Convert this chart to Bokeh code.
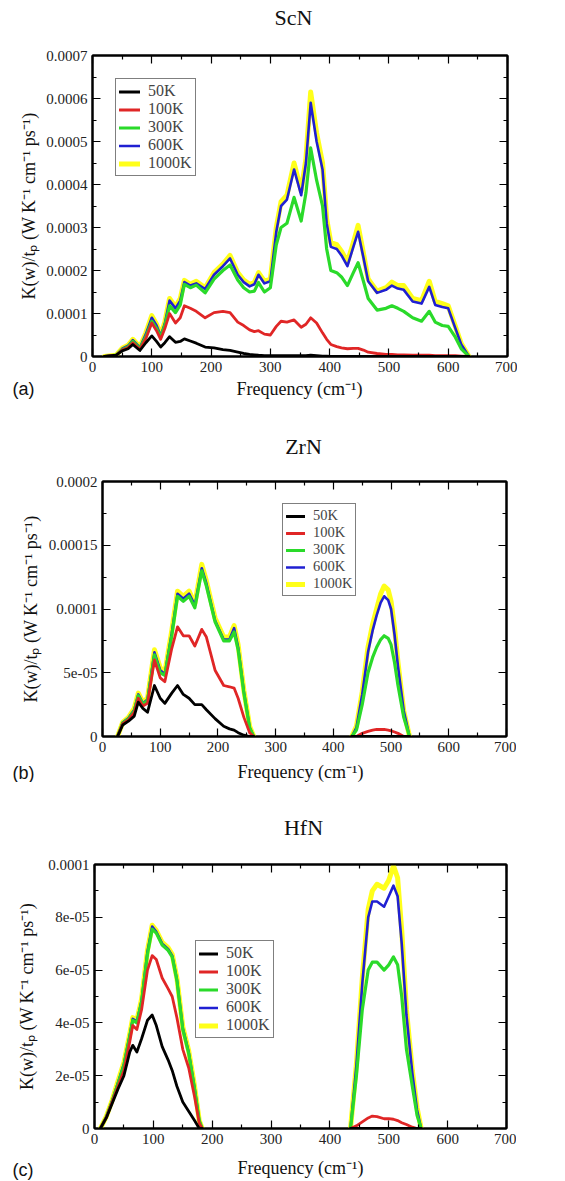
import numpy as np
from bokeh.plotting import figure
from bokeh.models import (LinearAxis, FixedTicker, Label, Legend, LegendItem,
                          CustomJSTickFormatter, Range1d)
from bokeh.embed import file_html
from bokeh.resources import INLINE

NAN = float("nan")
SCALE = 1e-5  # values below are in units of 1e-5 W K^-1 cm^-1 ps^-1

TEMPS = ["50K", "100K", "300K", "600K", "1000K"]
COLORS = {"50K": "#000000", "100K": "#e02626", "300K": "#2ada2a",
          "600K": "#2020d2", "1000K": "#ffff1a"}
WIDTHS = {"50K": 2.8, "100K": 2.8, "300K": 3.2, "600K": 2.6, "1000K": 5.0}
DRAW_ORDER = ["1000K", "600K", "300K", "100K", "50K"]

X_TICKS = [0, 100, 200, 300, 400, 500, 600, 700]
X_MINOR = [50, 150, 250, 350, 450, 550, 650]

# ---------------- ScN ----------------
SCN_FREQ = [20, 40, 50, 60, 68, 80, 90, 100, 108, 115, 122, 130, 140, 148, 155, 165, 175,
            190, 205, 220, 232, 245, 255, 265, 273, 280, 290, 300, 310, 318, 328, 340,
            352, 360, 368, 378, 388, 395, 402, 412, 420, 430, 440, 448, 457, 465, 480,
            495, 505, 515, 525, 540, 555, 568, 578, 590, 600, 612, 622, 635]
SCN_1000K = [0, 0.3, 1.9, 2.6, 4.0, 2.2, 5.5, 9.5, 7.5, 5.0, 8.0, 13.5, 11.5, 13.5, 17.7, 16.8, 17.5,
             16.0, 19.5, 21.5, 23.5, 19.5, 17.8, 16.8, 17.2, 19.5, 17.5, 18.0, 30.0, 36.0, 37.5, 45.0,
             38.5, 46.0, 61.5, 52.0, 45.0, 32.0, 26.5, 26.0, 24.5, 22.0, 26.5, 30.5, 24.0, 18.0, 15.2,
             16.0, 17.3, 16.5, 16.5, 13.5, 13.0, 17.5, 12.8, 12.3, 11.8, 7.0, 3.0, 0]
SCN_600K = [0, 0.3, 1.8, 2.5, 3.8, 2.1, 5.2, 9.0, 7.2, 4.8, 7.7, 13.0, 11.2, 13.0, 17.3, 16.5, 17.0,
            15.7, 19.0, 21.0, 22.8, 19.0, 17.3, 16.3, 16.8, 19.0, 17.0, 17.5, 29.0, 35.0, 36.5, 43.5,
            37.5, 45.0, 59.0, 50.0, 43.5, 31.0, 25.5, 25.0, 23.5, 21.0, 25.5, 29.0, 23.0, 17.5, 14.8,
            15.5, 16.5, 15.8, 15.5, 12.8, 12.3, 16.2, 12.0, 11.5, 11.2, 6.6, 2.8, 0]
SCN_300K = [0, 0.3, 1.6, 2.3, 3.5, 1.9, 4.6, 8.2, 6.5, 4.5, 7.2, 11.8, 10.2, 12.0, 16.8, 16.0, 16.6,
            14.8, 18.0, 20.0, 21.3, 17.8, 16.0, 15.0, 15.2, 17.2, 15.0, 16.0, 26.0, 30.0, 31.0, 37.0,
            31.5, 38.0, 48.5, 41.0, 35.0, 25.0, 20.0, 19.5, 18.5, 16.5, 19.5, 21.8, 17.5, 13.5, 10.8,
            11.2, 11.8, 11.2, 10.5, 9.0, 8.2, 10.5, 8.0, 7.2, 7.0, 4.5, 1.8, 0]
SCN_100K = [0, 0.3, 1.5, 2.1, 3.2, 1.7, 4.2, 7.8, 6.0, 4.0, 6.5, 10.0, 7.8, 9.0, 11.8, 11.2, 10.5,
            9.0, 10.2, 10.5, 10.2, 8.0, 7.2, 6.2, 5.8, 6.0, 5.2, 5.0, 7.0, 8.2, 8.0, 8.5,
            6.8, 7.5, 9.0, 7.8, 5.5, 4.0, 2.8, 2.3, 2.0, 1.8, 1.9, 1.9, 1.5, 1.0, 0.7,
            0.5, 0.5, 0.4, 0.4, 0.3, 0.3, 0.3, 0.2, 0.2, 0.2, 0.2, 0.1, 0]
SCN_50K = [0, 0.3, 1.3, 1.8, 2.8, 1.4, 3.2, 4.8, 3.5, 2.2, 3.2, 4.6, 3.3, 3.5, 4.1, 3.6, 3.1,
           2.2, 2.0, 1.6, 1.4, 1.0, 0.7, 0.5, 0.4, 0.3, 0.2, 0.2, 0.2, 0.2, 0.2, 0.2,
           0.2, 0.2, 0.3, 0.2, 0.1, 0.1, 0, 0, 0, 0, 0, 0, 0, 0, 0,
           0, 0, 0, 0, 0, 0, 0, 0, 0, 0, 0, 0, 0]

# ---------------- ZrN ----------------
ZRN_FREQ = [26, 35, 45, 55, 62, 70, 78, 90, 100, 108, 120, 130, 140, 150, 160, 172, 180, 195,
            210, 220, 228, 235, 245, 255, 262, NAN, 432, 440, 450, 460, 468, 475, 482, 488,
            495, 500, 506, 512, 522, 532]
ZRN_1000K = [0, 1.1, 1.5, 2.2, 3.4, 2.7, 3.0, 6.8, 5.4, 5.0, 8.3, 11.4, 11.0, 11.4, 10.4, 13.5, 12.2, 9.3,
             7.8, 7.8, 8.7, 7.2, 3.6, 0.8, 0, NAN, 0, 0.8, 3.5, 7.0, 8.8, 10.0, 11.2, 11.8,
             11.5, 10.6, 8.5, 5.8, 2.0, 0]
ZRN_600K = [0, 1.1, 1.45, 2.1, 3.3, 2.6, 2.9, 6.6, 5.2, 4.9, 8.1, 11.2, 10.8, 11.2, 10.3, 13.2, 12.0, 9.1,
            7.6, 7.6, 8.5, 7.0, 3.5, 0.7, 0, NAN, 0, 0.7, 3.3, 6.6, 8.3, 9.5, 10.5, 11.0,
            10.7, 10.0, 8.0, 5.5, 2.0, 0]
ZRN_300K = [0, 1.05, 1.4, 2.0, 3.2, 2.55, 2.8, 6.4, 5.0, 4.8, 7.9, 11.0, 10.6, 11.0, 10.1, 13.0, 11.8, 9.0,
            7.5, 7.5, 8.2, 6.8, 3.4, 0.7, 0, NAN, 0, 0.5, 2.5, 5.0, 6.2, 7.0, 7.6, 7.9,
            7.7, 7.2, 5.8, 4.0, 1.5, 0]
ZRN_100K = [0, 1.0, 1.3, 1.9, 3.0, 2.4, 2.6, 6.0, 4.6, 4.3, 6.9, 8.6, 7.9, 7.9, 7.1, 8.4, 7.8, 5.2,
            4.0, 3.9, 3.8, 3.0, 1.5, 0.3, 0, NAN, 0, 0, 0.25, 0.4, 0.5, 0.55, 0.55, 0.55,
            0.5, 0.45, 0.35, 0.25, 0, 0]
ZRN_50K = [0, 0.9, 1.2, 1.6, 2.7, 2.2, 1.9, 4.0, 3.0, 2.6, 3.4, 4.0, 3.3, 3.0, 2.5, 2.5, 2.1, 1.4,
           0.8, 0.6, 0.5, 0.3, 0.1, 0, 0, NAN, 0, 0, 0, 0, 0, 0, 0, 0,
           0, 0, 0, 0, 0, 0]

# ---------------- HfN ----------------
HFN_FREQ = [10, 20, 30, 40, 50, 60, 65, 72, 80, 90, 98, 105, 115, 125, 132, 140, 150, 160, 170,
            178, 183, NAN, 435, 445, 455, 465, 472, 480, 492, 500, 508, 515, 522, 530, 540, 548, 555]
HFN_1000K = [0, 0.45, 1.07, 1.8, 2.5, 3.6, 4.2, 4.1, 4.9, 6.75, 7.7, 7.5, 7.05, 6.85, 6.6, 5.7, 3.85, 2.95, 1.6,
             0.3, 0, NAN, 0, 2.45, 5.7, 8.3, 9.0, 9.25, 9.1, 9.4, 9.95, 9.5, 7.5, 4.5, 2.2, 0.8, 0]
HFN_600K = [0, 0.44, 1.05, 1.75, 2.45, 3.55, 4.15, 4.05, 4.85, 6.7, 7.65, 7.45, 7.0, 6.8, 6.55, 5.65, 3.8, 2.9, 1.55,
            0.3, 0, NAN, 0, 2.4, 5.5, 8.0, 8.6, 8.6, 8.4, 8.8, 9.2, 8.8, 7.0, 4.3, 2.1, 0.7, 0]
HFN_300K = [0, 0.43, 1.03, 1.7, 2.4, 3.5, 4.1, 4.0, 4.8, 6.6, 7.55, 7.4, 6.95, 6.75, 6.5, 5.6, 3.75, 2.85, 1.5,
            0.3, 0, NAN, 0, 2.0, 4.5, 6.0, 6.3, 6.3, 6.0, 6.2, 6.5, 6.2, 5.0, 3.0, 1.6, 0.5, 0]
HFN_100K = [0, 0.42, 1.0, 1.6, 2.2, 3.3, 3.9, 3.75, 4.5, 6.0, 6.55, 6.4, 5.7, 5.3, 5.0, 4.2, 3.0, 2.3, 1.2,
            0.2, 0, NAN, 0, 0.1, 0.25, 0.4, 0.47, 0.45, 0.37, 0.37, 0.35, 0.3, 0.22, 0.15, 0.05, 0, 0]
HFN_50K = [0, 0.4, 0.95, 1.5, 2.0, 2.9, 3.15, 2.9, 3.4, 4.1, 4.3, 3.9, 3.1, 2.6, 2.2, 1.6, 1.0, 0.65, 0.3,
           0, 0, NAN, 0, 0, 0, 0, 0, 0, 0, 0, 0, 0, 0, 0, 0, 0, 0]

SCN_Y_TICKS = [0, 0.0001, 0.0002, 0.0003, 0.0004, 0.0005, 0.0006, 0.0007]
SCN_Y_LABELS = ["0", "0.0001", "0.0002", "0.0003", "0.0004", "0.0005", "0.0006", "0.0007"]
SCN_Y_MINOR = [0.00005, 0.00015, 0.00025, 0.00035, 0.00045, 0.00055, 0.00065]
ZRN_Y_TICKS = [0, 0.00005, 0.0001, 0.00015, 0.0002]
ZRN_Y_LABELS = ["0", "5e-05", "0.0001", "0.00015", "0.0002"]
ZRN_Y_MINOR = [0.000025, 0.000075, 0.000125, 0.000175]
HFN_Y_TICKS = [0, 0.00002, 0.00004, 0.00006, 0.00008, 0.0001]
HFN_Y_LABELS = ["0", "2e-05", "4e-05", "6e-05", "8e-05", "0.0001"]
HFN_Y_MINOR = [0.00001, 0.00003, 0.00005, 0.00007, 0.00009]

SERIF = "Liberation Serif"
SANS = "Liberation Sans"
Y_LABEL = "K(w)/t\u209a (W K\u207b\u00b9 cm\u207b\u00b9 ps\u207b\u00b9)"
X_LABEL = "Frequency (cm\u207b\u00b9)"
STRIP_W = 560


def style_axis(ax, ticker, labels=None, ticks=None):
    ax.ticker = ticker
    ax.axis_line_width = 2
    ax.axis_line_color = "black"
    ax.major_tick_in = 8
    ax.major_tick_out = 0
    ax.minor_tick_in = 4
    ax.minor_tick_out = 0
    ax.major_tick_line_width = 1.2
    ax.minor_tick_line_width = 1.2
    if labels is None:
        ax.formatter = CustomJSTickFormatter(code="return ''")
        ax.major_label_text_font_size = "0px"
        ax.major_label_standoff = 0
    else:
        ax.major_label_text_font = SERIF
        ax.major_label_text_font_size = "15px"
        ax.major_label_text_color = "#222222"
        ax.major_label_standoff = 5
        ax.major_label_overrides = {t: l for t, l in zip(ticks, labels)}


def text_strip(height, items):
    s = figure(width=STRIP_W, height=height, output_backend="svg", toolbar_location=None,
               x_axis_type=None, y_axis_type=None, x_range=Range1d(0, 1), y_range=Range1d(0, 1),
               min_border=0, min_border_left=0, min_border_right=0,
               min_border_top=0, min_border_bottom=0)
    s.outline_line_color = None
    for text, x, y, font, size, align in items:
        s.add_layout(Label(x=x, y=y, x_units="screen", y_units="screen", text=text,
                           text_font=font, text_font_size=size, text_align=align,
                           text_baseline="middle", text_color="#111111"))
    return s


def make_panel(freq, series, ymax, yticks, ylabels, yminor,
               fw, fh, b_left, ylab_standoff, leg):
    p = figure(frame_width=fw, frame_height=fh, output_backend="svg", toolbar_location=None,
               x_range=Range1d(0, 700), y_range=Range1d(0, ymax),
               min_border_left=b_left, min_border_right=10,
               min_border_top=6, min_border_bottom=22)
    p.xgrid.visible = False
    p.ygrid.visible = False
    p.outline_line_color = "black"
    p.outline_line_width = 2
    xt = FixedTicker(ticks=X_TICKS, minor_ticks=X_MINOR)
    yt = FixedTicker(ticks=yticks, minor_ticks=yminor)
    style_axis(p.xaxis[0], xt, [str(t) for t in X_TICKS], X_TICKS)
    style_axis(p.yaxis[0], yt, ylabels, yticks)
    ya = p.yaxis[0]
    ya.axis_label = Y_LABEL
    ya.axis_label_text_font = SERIF
    ya.axis_label_text_font_size = "18px"
    ya.axis_label_text_font_style = "normal"
    ya.axis_label_text_color = "#111111"
    ya.axis_label_standoff = ylab_standoff
    top = LinearAxis()
    style_axis(top, xt)
    right = LinearAxis()
    style_axis(right, yt)
    p.add_layout(top, "above")
    p.add_layout(right, "right")

    x = np.array(freq, dtype=float)
    rends = {}
    for t in DRAW_ORDER:
        y = np.array(series[t], dtype=float) * SCALE
        rends[t] = p.line(x, y, line_color=COLORS[t], line_width=WIDTHS[t],
                          line_join="round", line_cap="round")

    legend = Legend(items=[LegendItem(label=t, renderers=[rends[t]]) for t in TEMPS],
                    location=leg["loc"], margin=0, padding=leg["pad"], spacing=0,
                    label_height=leg["lh"], glyph_height=leg["lh"], glyph_width=leg["gw"],
                    label_standoff=8, label_text_font=SERIF, label_text_font_size=leg["font"],
                    border_line_color="black", border_line_width=1.2,
                    background_fill_color="white", background_fill_alpha=1.0)
    p.add_layout(legend)
    return p


# ---- panel (a) ----
top_a = text_strip(49, [("ScN", 293, 32, SERIF, "22px", "center")])
main_a = make_panel(SCN_FREQ,
                    {"50K": SCN_50K, "100K": SCN_100K, "300K": SCN_300K, "600K": SCN_600K, "1000K": SCN_1000K},
                    0.0007, SCN_Y_TICKS, SCN_Y_LABELS, SCN_Y_MINOR,
                    415, 301, 92, 4,
                    {"loc": (23, 180), "font": "16px", "lh": 17, "pad": 3, "gw": 21})
bot_a = text_strip(22, [("(a)", 12, 12, SANS, "18px", "left"),
                        (X_LABEL, 299, 12, SERIF, "18px", "center")])

# ---- panel (b) ----
top_b = text_strip(75, [("ZrN", 303, 29, SERIF, "22px", "center")])
main_b = make_panel(ZRN_FREQ,
                    {"50K": ZRN_50K, "100K": ZRN_100K, "300K": ZRN_300K, "600K": ZRN_600K, "1000K": ZRN_1000K},
                    0.0002, ZRN_Y_TICKS, ZRN_Y_LABELS, ZRN_Y_MINOR,
                    404, 255, 102, 5,
                    {"loc": (180, 140), "font": "14.5px", "lh": 16, "pad": 3, "gw": 19})
bot_b = text_strip(24, [("(b)", 12, 10, SANS, "18px", "left"),
                        (X_LABEL, 300, 11, SERIF, "18px", "center")])

# ---- panel (c) ----
top_c = text_strip(76, [("HfN", 303, 31, SERIF, "22px", "center")])
main_c = make_panel(HFN_FREQ,
                    {"50K": HFN_50K, "100K": HFN_100K, "300K": HFN_300K, "600K": HFN_600K, "1000K": HFN_1000K},
                    0.0001, HFN_Y_TICKS, HFN_Y_LABELS, HFN_Y_MINOR,
                    412, 264, 94, 8,
                    {"loc": (101, 90), "font": "16px", "lh": 17, "pad": 3, "gw": 19})
bot_c = text_strip(31, [("(c)", 12, 12, SANS, "18px", "left"),
                        (X_LABEL, 300, 14, SERIF, "18px", "center")])

roots = [top_a, main_a, bot_a, top_b, main_b, bot_b, top_c, main_c, bot_c]
open("out.html", "w").write(file_html(roots, INLINE))
